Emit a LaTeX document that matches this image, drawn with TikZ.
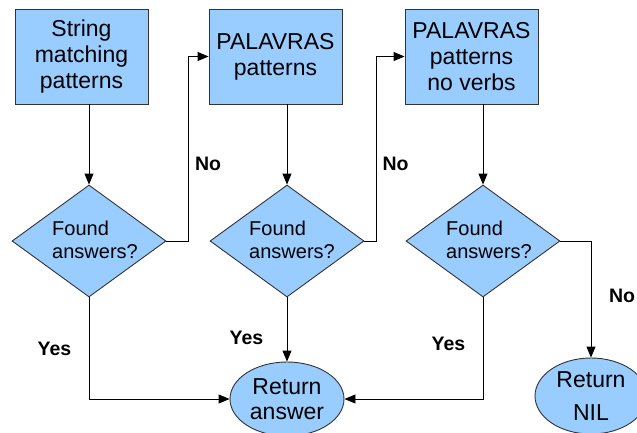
\documentclass[tikz,border=0pt]{standalone}
\usepackage{fontspec}
\setmainfont{Liberation Sans}
\usetikzlibrary{shapes.geometric,arrows.meta}
\definecolor{boxfill}{HTML}{99CCFF}
\definecolor{edgecol}{HTML}{333333}
\begin{document}
\begin{tikzpicture}[x=1pt,y=-1pt,
  procbox/.style={draw=edgecol,line width=0.9pt,fill=boxfill,minimum width=133pt,minimum height=95pt,inner sep=0pt,align=center,font=\fontsize{23}{26}\selectfont},
  decbox/.style={diamond,draw=edgecol,line width=0.9pt,fill=boxfill,aspect=1.375,minimum width=154pt,minimum height=112pt,inner sep=0pt},
  dectext/.style={inner sep=0pt,align=left,font=\fontsize{20}{23}\selectfont},
  endbox/.style={ellipse,draw=edgecol,line width=0.9pt,fill=boxfill,inner sep=0pt,align=center,font=\fontsize{23}{25}\selectfont},
  conn/.style={draw=black,line width=0.9pt,-{Triangle[length=11pt,width=9pt]}},
  lbl/.style={font=\bfseries\fontsize{19.5}{22}\selectfont,inner sep=0pt}]
\useasboundingbox (0,0) rectangle (637,432);
\clip (0,0) rectangle (637,432);
% process boxes
\node[procbox] (b1) at (81.5,56.5) {String\\matching\\patterns};
\node[procbox] (b2) at (275.5,56.5) {PALAVRAS\\patterns};
\node[procbox] (b3) at (471.5,56.5) {PALAVRAS\\patterns\\no verbs};
% decisions
\node[decbox] (d1) at (89,241) {};
\node[decbox] (d2) at (287,241) {};
\node[decbox] (d3) at (483,241) {};
\node[dectext] (t1) at (95,240) {Found\\answers?};
\node[dectext] (t2) at (292,240) {Found\\answers?};
\node[dectext] (t3) at (489,240) {Found\\answers?};
% terminals
\node[endbox,minimum width=114pt,minimum height=74pt] (ra) at (287,399) {Return\\answer};
\node[endbox,minimum width=112pt,minimum height=76pt] (rn) at (591,396) {Return\\[8pt]NIL};
% bend points
\coordinate (n1) at (188,241);
\coordinate (n2) at (376,241);
\coordinate (n3) at (591,241);
\coordinate (y1) at (89,399);
\coordinate (y3) at (483,399);
% connectors
\draw[conn] (b1.south -| d1.north) -- (d1.north);
\draw[conn] (b2.south -| d2.north) -- (d2.north);
\draw[conn] (b3.south -| d3.north) -- (d3.north);
\draw[conn] (d1.east) -- (n1) |- (b2.west);
\draw[conn] (d2.east) -- (n2) |- (b3.west);
\draw[conn] (d3.east) -- (n3) -- (rn.north);
\draw[conn] (d1.south) -- (y1) -- (ra.west);
\draw[conn] (d2.south) -- (ra.north);
\draw[conn] (d3.south) -- (y3) -- (ra.east);
% labels
\node[lbl] (l1) at (208,164) {No};
\node[lbl] (l2) at (395.5,164) {No};
\node[lbl] (l3) at (622,296) {No};
\node[lbl] (l4) at (54.5,349) {Yes};
\node[lbl] (l5) at (246.5,338) {Yes};
\node[lbl] (l6) at (448.5,344) {Yes};
\end{tikzpicture}
\end{document}
